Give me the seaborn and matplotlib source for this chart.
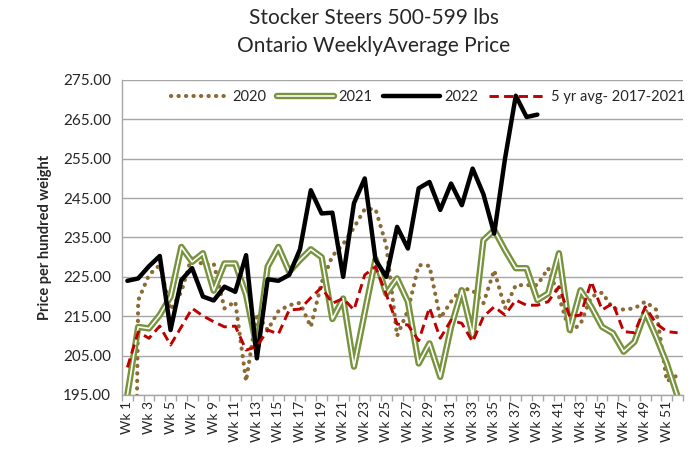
import numpy as np
import pandas as pd
import matplotlib
matplotlib.use("Agg")
import matplotlib.pyplot as plt
import matplotlib.patheffects as pe
from matplotlib.ticker import FixedLocator, FuncFormatter
import seaborn as sns

weeks = [f"Wk {i}" for i in range(1, 53)]

y2020 = [0, 219.0, 225.5, 228.0, 216.6, 221.2, 230.5, 228.0, 228.4, 217.0,
         218.7, 198.5, 215.7, 211.5, 216.3, 217.8, 218.4, 212.3, 223.5, 230.3,
         233.3, 237.5, 242.2, 242.2, 233.0, 210.0, 216.5, 228.0, 227.8, 214.5,
         218.7, 222.1, 221.6, 218.3, 226.7, 217.0, 222.9, 222.9, 222.9, 227.2,
         220.0, 211.0, 213.0, 220.0, 221.0, 217.0, 216.7, 217.0, 218.7, 216.7,
         198.5, 200.0]

y2021 = [195.0, 212.3, 211.9, 215.3, 220.0, 232.6, 228.8, 231.0, 221.5, 228.4,
         228.4, 220.5, 207.0, 227.6, 232.6, 226.3, 229.3, 232.0, 230.0, 214.3,
         219.5, 202.2, 216.0, 229.5, 220.7, 224.6, 218.7, 203.0, 208.1, 199.6,
         212.3, 221.6, 210.2, 234.3, 236.9, 231.8, 227.2, 227.2, 219.1, 220.8,
         231.0, 211.5, 221.6, 217.4, 212.3, 210.7, 206.0, 208.5, 216.1, 209.8,
         203.0, 194.6]

y2022 = [224.0, 224.6, 227.7, 230.3, 211.5, 224.2, 227.2, 220.0, 219.0, 222.5,
         221.2, 230.5, 204.3, 224.4, 224.0, 225.5, 232.0, 247.0, 241.1, 241.3,
         225.0, 243.7, 250.0, 229.3, 225.0, 237.7, 232.2, 247.5, 249.1, 242.0,
         248.7, 243.2, 252.5, 246.0, 236.0, 255.0, 271.0, 265.6, 266.2]

y5yr = [202.0, 211.0, 209.4, 212.5, 207.7, 212.3, 217.0, 215.1, 213.6, 212.3,
        212.5, 206.4, 207.3, 211.5, 210.5, 216.6, 216.8, 219.7, 222.3, 218.3,
        219.5, 216.6, 225.5, 227.6, 220.5, 213.0, 212.8, 208.8, 217.2, 209.4,
        214.0, 213.2, 208.5, 214.9, 217.4, 215.3, 219.1, 217.8, 217.8, 218.7,
        222.5, 214.9, 215.3, 223.8, 216.6, 218.3, 211.1, 210.8, 217.4, 213.2,
        211.1, 210.8]

title = "Stocker Steers 500-599 lbs\nOntario WeeklyAverage Price"
ylabel = "Price per hundred weight"
yticks = [195, 205, 215, 225, 235, 245, 255, 265, 275]

sns.set_theme(style="white")
plt.rcParams['font.family'] = ['Lato', 'DejaVu Sans']

C2020 = "#8C6A35"
C2021 = "#77933C"
C2022 = "#000000"
C5YR = "#C00000"

fig = plt.figure(figsize=(6.92, 4.55), dpi=100)
ax = fig.add_axes([0.1763, 0.1319, 0.8107, 0.6923])

idx = np.arange(len(weeks))
df20 = pd.DataFrame({"x": idx, "y": y2020})
df21 = pd.DataFrame({"x": idx, "y": y2021})
df22 = pd.DataFrame({"x": idx[:len(y2022)], "y": y2022})
df5 = pd.DataFrame({"x": idx, "y": y5yr})

sns.lineplot(data=df20, x="x", y="y", ax=ax, color=C2020, lw=3.0,
             label="2020", sort=False)
l20 = ax.lines[-1]
l20.set_linestyle((0, (0.05, 1.75)))
l20.set_dash_capstyle("round")

sns.lineplot(data=df21, x="x", y="y", ax=ax, color="white", lw=1.2,
             label="2021", sort=False)
l21 = ax.lines[-1]
l21.set_path_effects([pe.Stroke(linewidth=4.6, foreground=C2021), pe.Normal()])

sns.lineplot(data=df22, x="x", y="y", ax=ax, color=C2022, lw=3.2,
             label="2022", sort=False)

sns.lineplot(data=df5, x="x", y="y", ax=ax, color=C5YR, lw=2.1,
             label="5 yr avg- 2017-2021", sort=False)
l5 = ax.lines[-1]
l5.set_linestyle((0, (3.2, 1.8)))

ax.set_ylim(195, 275)
ax.set_xlim(-0.5, len(weeks) - 0.5)
ax.set_yticks(yticks)
ax.yaxis.set_major_formatter(FuncFormatter(lambda v, p: f"{v:.2f}"))
ax.grid(axis="y", color="#A6A6A6", lw=1)
ax.set_axisbelow(True)

ax.set_xticks(idx[::2])
ax.set_xticklabels(weeks[::2], rotation=90, fontsize=10)
ax.xaxis.set_minor_locator(FixedLocator(np.arange(-0.5, len(weeks), 1.0)))
ax.tick_params(axis="x", which="major", length=0, pad=4)
ax.tick_params(axis="x", which="minor", length=4, color="#A6A6A6", width=1,
               direction="out", bottom=True)
ax.tick_params(axis="y", length=0, labelsize=11, pad=8)

for s in ["top", "right"]:
    ax.spines[s].set_visible(False)
for s in ["left", "bottom"]:
    ax.spines[s].set_color("#A6A6A6")
    ax.spines[s].set_linewidth(1)

ax.set_xlabel("")
ax.set_ylabel(ylabel, fontsize=10.5, fontweight="bold", labelpad=8)

leg = ax.legend(loc="center", bbox_to_anchor=(0.545, 0.946), ncol=4,
                frameon=False, fontsize=10.5, handlelength=3.9,
                columnspacing=0.75, handletextpad=0.3, borderaxespad=0)

fig.suptitle(title, x=0.54, y=0.983, fontsize=15, linespacing=1.5)

fig.savefig("out.png", dpi=100)
